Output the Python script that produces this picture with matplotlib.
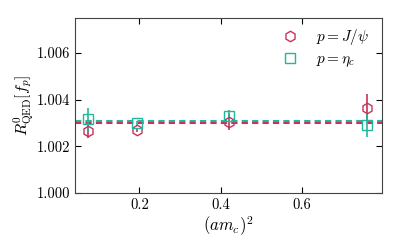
import matplotlib
matplotlib.use("Agg")
import matplotlib.pyplot as plt

plt.rcParams['font.family'] = 'serif'
plt.rcParams['font.serif'] = ['cmr10']
plt.rcParams['mathtext.fontset'] = 'cm'
plt.rcParams['axes.formatter.use_mathtext'] = True

x = [0.0744, 0.1936, 0.420, 0.761]
jpsi = [1.00265, 1.00270, 1.00305, 1.00365]
jpsi_err = [0.00030, 0.00010, 0.00035, 0.00058]
etac = [1.00315, 1.00298, 1.00330, 1.00290]
etac_err = [0.00048, 0.00010, 0.00025, 0.00050]
fit_jpsi = 1.00301
fit_etac = 1.00307

red = '#c8325a'
teal = '#22b79c'

fig = plt.figure(figsize=(3.99, 2.47), dpi=100)
ax = fig.add_axes([75.3/399, 1 - 193/247, (381.7-75.3)/399, (193-17.7)/247])

ax.axhline(fit_etac, color=teal, ls='--', lw=1.5, dashes=(3, 2))
ax.axhline(fit_jpsi, color=red, ls='--', lw=1.5, dashes=(3, 2))

ax.errorbar(x, jpsi, yerr=jpsi_err, fmt='h', color=red, mfc='none', mec=red,
            ms=7.5, mew=1.0, elinewidth=1.2, capsize=0, label=r'$p = J/\psi$')
ax.errorbar(x, etac, yerr=etac_err, fmt='s', color=teal, mfc='none', mec=teal,
            ms=7.5, mew=1.0, elinewidth=1.2, capsize=0, label=r'$p = \eta_c$')

ax.set_xlim(0.042, 0.797)
ax.set_ylim(1.000, 1.0075)
ax.set_xticks([0.2, 0.4, 0.6])
ax.set_xticklabels(['0.2', '0.4', '0.6'])
ax.set_yticks([1.000, 1.002, 1.004, 1.006])
ax.set_yticklabels(['1.000', '1.002', '1.004', '1.006'])
ax.tick_params(direction='in', top=True, right=True, labelsize=10.5, length=4)
for s in ax.spines.values():
    s.set_color('#444444')
ax.set_xlabel(r'$(am_c)^2$', fontsize=12, labelpad=2)
ax.set_ylabel(r'$R^0_{\mathrm{QED}}[f_p]$', fontsize=11.5, labelpad=0.5)

h, l = ax.get_legend_handles_labels()
h = [hh[0] for hh in h]
ax.legend(h, l, loc='upper right', bbox_to_anchor=(1 - 3.5/306, 1.0),
          frameon=False, fontsize=11, handletextpad=0.7,
          borderaxespad=0.2, labelspacing=0.4)

fig.savefig('out.png', dpi=100)
